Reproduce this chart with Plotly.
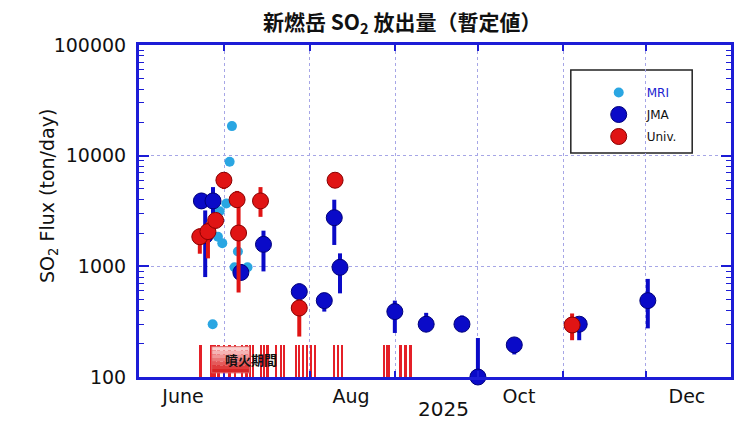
import math
import plotly.graph_objects as go

# ---------------- data ----------------
mri_dates = ["2025-06-26 18:00", "2025-06-28 16:00", "2025-06-29 07:00", "2025-06-30 06:00",
             "2025-07-01 17:00", "2025-07-02 22:00", "2025-07-03 18:00", "2025-07-04 17:00",
             "2025-07-05 22:00", "2025-07-09 10:00"]
mri_vals = [300, 1850, 3150, 1620, 3700, 8800, 18500, 980, 1360, 980]

jma_dates = ["2025-06-22 16:00", "2025-06-24 01:00", "2025-06-26 21:00", "2025-07-07 00:00",
             "2025-07-15 05:00", "2025-07-28 05:00", "2025-08-06 07:00", "2025-08-09 22:00",
             "2025-08-12 00:00", "2025-08-31 22:00", "2025-09-12 07:00", "2025-09-25 07:00",
             "2025-10-01 02:00", "2025-10-14 07:00", "2025-11-06 21:00", "2025-12-01 19:00"]
jma_vals = [3900, 1900, 3900, 880, 1580, 590, 490, 2750, 980, 390, 300, 300, 100, 195, 300, 490]
jma_lo = [3300, 800, 3000, 750, 900, 500, 390, 1560, 570, 250, 260, 270, 100, 160, 215, 275]
jma_hi = [4600, 3200, 5200, 1050, 2100, 700, 560, 4000, 1310, 490, 380, 360, 225, 210, 340, 770]

univ_dates = ["2025-06-22 02:00", "2025-06-25 01:00", "2025-06-27 20:00", "2025-06-30 20:00",
              "2025-07-05 15:00", "2025-07-06 04:00", "2025-07-14 03:00", "2025-07-28 05:00",
              "2025-08-10 05:00", "2025-11-04 07:00"]
univ_vals = [1850, 2060, 2600, 6000, 4000, 2000, 3900, 420, 6000, 295]
univ_lo = [1300, 1180, 2200, 5000, 3400, 580, 2800, 232, 5500, 215]
univ_hi = [2200, 2500, 3000, 7000, 4800, 3900, 5200, 500, 6500, 375]

eruption_dates = ["2025-06-22 10:00", "2025-06-26 10:00", "2025-06-27 12:00", "2025-06-29", "2025-07-01",
                  "2025-07-03", "2025-07-05", "2025-07-07 14:00", "2025-07-09 02:00",
                  "2025-07-10 12:00", "2025-07-11 14:00", "2025-07-14 12:00", "2025-07-15 14:00",
                  "2025-07-16 17:00", "2025-07-19 22:00", "2025-07-21 17:00", "2025-07-22 19:00",
                  "2025-07-27 02:00", "2025-07-28 05:00", "2025-07-29 17:00", "2025-07-31 02:00",
                  "2025-08-01 14:00", "2025-08-03 00:00", "2025-08-09 22:00", "2025-08-11 07:00",
                  "2025-08-12 19:00", "2025-08-28 00:00", "2025-08-29 02:00", "2025-08-29 19:00",
                  "2025-09-03 02:00", "2025-09-04 22:00", "2025-09-06 17:00"]
eruption_base = 100
eruption_top = 195

month_starts = ["2025-07-01", "2025-08-01", "2025-09-01", "2025-10-01", "2025-11-01", "2025-12-01"]
label_dates = ["2025-06-16", "2025-08-16", "2025-10-16", "2025-12-16"]
label_text = ["June", "Aug", "Oct", "Dec"]
y_ticks = [100, 1000, 10000, 100000]
y_minor = [m * 10 ** e for e in (2, 3, 4) for m in range(2, 10)]

# ---------------- style ----------------
W, H = 737, 436
L, R, T, B = 139, 3, 45, 59
PW, PH = W - L - R, H - T - B
FRAME = "#1c1cd6"
GRID = "#a6a6e6"
C_MRI = "#2aa6e2"
C_JMA = "#0a0ac8"
C_UNIV = "#e01414"
FONT = "DejaVu Sans"
CJK = "Noto Sans CJK JP"


def px(x):
    return (x - L) / PW


def py(y):
    return (H - B - y) / PH


fig = go.Figure()

fig.add_trace(go.Bar(
    x=eruption_dates, y=[eruption_top - eruption_base] * len(eruption_dates), base=eruption_base,
    width=0.7 * 86400000, marker=dict(color="#e42028", line=dict(width=0)),
    showlegend=False, hoverinfo="skip"))

fig.add_trace(go.Scatter(
    x=mri_dates, y=mri_vals, mode="markers", name="<span style='color:#2020d0'>MRI</span>",
    marker=dict(size=10, color=C_MRI, line=dict(width=0)), legendgroup="a"))

fig.add_trace(go.Scatter(
    x=jma_dates, y=jma_vals, mode="markers", name="JMA", cliponaxis=False,
    marker=dict(size=16, color=C_JMA, line=dict(width=1, color="#00007a")),
    error_y=dict(type="data", symmetric=False,
                 array=[h - v for h, v in zip(jma_hi, jma_vals)],
                 arrayminus=[v - l for v, l in zip(jma_vals, jma_lo)],
                 color=C_JMA, thickness=4, width=0), legendgroup="b"))

fig.add_trace(go.Scatter(
    x=univ_dates, y=univ_vals, mode="markers", name="Univ.",
    marker=dict(size=16, color=C_UNIV, line=dict(width=1, color="#8a0000")),
    error_y=dict(type="data", symmetric=False,
                 array=[h - v for h, v in zip(univ_hi, univ_vals)],
                 arrayminus=[v - l for v, l in zip(univ_vals, univ_lo)],
                 color=C_UNIV, thickness=4, width=0), legendgroup="c"))

# eruption-period label box (gradient)
bands = ["#f9d0d0", "#f5b4b4", "#f09696", "#ea7878", "#e45a5a", "#de3c3c", "#d82424"]
y0l, y1l = math.log10(109), math.log10(188)
for i, c in enumerate(bands):
    ya = y1l - (y1l - y0l) * i / len(bands)
    yb = y1l - (y1l - y0l) * (i + 1) / len(bands)
    fig.add_shape(type="rect", xref="x", yref="y", x0="2025-06-26 10:00", x1="2025-07-10 03:00",
                  y0=10 ** yb, y1=10 ** ya, fillcolor=c, line=dict(width=0), layer="above")
fig.add_shape(type="rect", xref="x", yref="y", x0="2025-06-26 10:00", x1="2025-07-10 03:00",
              y0=109, y1=188, line=dict(width=1, color="#e06060"), layer="above")

# legend box
fig.add_shape(type="rect", xref="paper", yref="paper", x0=px(573), x1=px(695), y0=py(153), y1=py(70),
              line=dict(color="#222222", width=1.5), fillcolor="white", layer="below")

annotations = [
    dict(text="<b>噴火期間</b>", x="2025-07-10 20:00", y=math.log10(143), xref="x", yref="y",
         showarrow=False, font=dict(family=CJK, size=13, color="#111111")),
    dict(text="<b>新燃岳 SO<sub>2</sub> 放出量（暫定値）</b>", x=px(404), y=py(4), xref="paper", yref="paper",
         yanchor="top", showarrow=False, font=dict(family=CJK, size=21, color="#111111")),
    dict(text="SO<sub>2</sub> Flux (ton/day)", x=px(33), y=py(196), xref="paper", yref="paper",
         textangle=-90, showarrow=False, font=dict(family=FONT, size=19, color="#111111")),
    dict(text="2025", x=px(445), y=py(423), xref="paper", yref="paper",
         showarrow=False, font=dict(family=FONT, size=20, color="#111111")),
]

fig.update_layout(
    width=W, height=H, margin=dict(l=L, r=R, t=T, b=B),
    paper_bgcolor="white", plot_bgcolor="white",
    bargap=0, annotations=annotations,
    legend=dict(x=px(593), y=py(78), xanchor="left", yanchor="top",
                bgcolor="rgba(0,0,0,0)", borderwidth=0, itemwidth=46, tracegroupgap=3,
                font=dict(family=FONT, size=12, color="#111111"), itemsizing="trace"),
    xaxis=dict(type="date", range=["2025-05-31", "2026-01-01"],
               tickmode="array", tickvals=label_dates, ticktext=label_text, ticks="",
               showgrid=False, zeroline=False, showline=True, linecolor=FRAME, linewidth=3,
               mirror="ticks", tickfont=dict(family=FONT, size=19, color="#111111"),
               minor=dict(tickmode="array", tickvals=month_starts, ticks="inside", ticklen=6,
                          tickcolor=FRAME, tickwidth=1.5, showgrid=True, gridcolor=GRID,
                          griddash="dot", gridwidth=1)),
    yaxis=dict(type="log", range=[2, 5], tickmode="array", tickvals=y_ticks,
               ticktext=[str(v) for v in y_ticks], ticks="inside", ticklen=10, tickwidth=1.5,
               tickcolor=FRAME, showgrid=True, gridcolor=GRID, griddash="dot", gridwidth=1,
               zeroline=False, showline=True, linecolor=FRAME, linewidth=3, mirror="ticks",
               tickfont=dict(family=FONT, size=19, color="#111111"), ticklabelstandoff=6,
               minor=dict(tickmode="array", tickvals=y_minor, ticks="inside", ticklen=5,
                          tickcolor=FRAME, tickwidth=1.2, showgrid=False)),
)

fig.write_html("out.html", config={"displayModeBar": False},
               post_script="document.body.style.margin='0';")
